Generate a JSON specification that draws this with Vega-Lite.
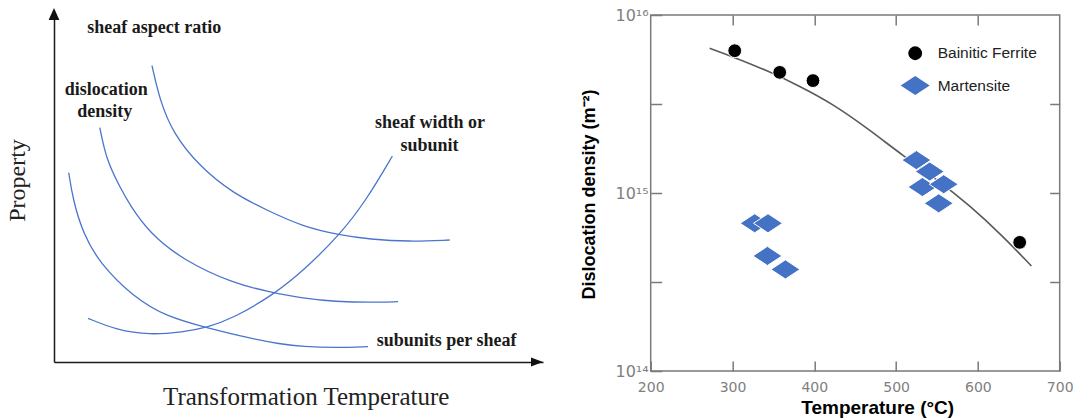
{
  "$schema": "https://vega.github.io/schema/vega-lite/v6.json",
  "padding": {"left": 5, "top": 6, "right": 5, "bottom": 5},
  "background": "white",
  "config": {"view": {"stroke": null}},
  "bounds": "flush",
  "spacing": 107.7,
  "resolve": {
    "scale": {"color": "independent", "shape": "independent", "size": "independent"},
    "legend": {"color": "independent", "shape": "independent", "size": "independent"}
  },
  "hconcat": [
    {
      "width": 489,
      "height": 347,
      "view": {"stroke": null},
      "encoding": {
        "x": {
          "field": "t", "type": "quantitative",
          "scale": {"domain": [0, 100], "nice": false, "zero": false},
          "axis": {
            "orient": "bottom", "domain": true, "domainColor": "#1a1a1a", "domainWidth": 1.5,
            "ticks": false, "labels": false, "grid": false,
            "title": "Transformation Temperature",
            "titleFont": "Liberation Serif", "titleFontSize": 25, "titleFontWeight": "normal",
            "titleColor": "#222222", "titleX": 251.7, "titleY": 42,
            "titleAlign": "center", "titleBaseline": "alphabetic"
          }
        },
        "y": {
          "field": "p", "type": "quantitative",
          "scale": {"domain": [0, 100], "nice": false, "zero": false},
          "axis": {
            "orient": "left", "domain": true, "domainColor": "#1a1a1a", "domainWidth": 1.5,
            "ticks": false, "labels": false, "grid": false,
            "title": "Property",
            "titleFont": "Liberation Serif", "titleFontSize": 24, "titleFontWeight": "normal",
            "titleColor": "#222222", "titleX": -30, "titleY": 165, "titleAngle": -90,
            "titleAlign": "center", "titleBaseline": "alphabetic"
          }
        }
      },
      "layer": [
        {
          "data": {"values": [
            {"curve": "A", "t": 20.04, "p": 85.39}, {"curve": "A", "t": 21.62, "p": 75.5},
            {"curve": "A", "t": 24.34, "p": 65.91}, {"curve": "A", "t": 29.8, "p": 56.28},
            {"curve": "A", "t": 36.61, "p": 48.62}, {"curve": "A", "t": 43.44, "p": 43.8},
            {"curve": "A", "t": 50.92, "p": 38.99}, {"curve": "A", "t": 58.43, "p": 36.6},
            {"curve": "A", "t": 64.56, "p": 35.36}, {"curve": "A", "t": 72.74, "p": 34.67},
            {"curve": "A", "t": 80.92, "p": 35.16},
            {"curve": "B", "t": 9.37, "p": 67.52}, {"curve": "B", "t": 10.72, "p": 58.21},
            {"curve": "B", "t": 13.44, "p": 50.52}, {"curve": "B", "t": 15.48, "p": 45.24},
            {"curve": "B", "t": 19.57, "p": 37.09}, {"curve": "B", "t": 26.38, "p": 29.39},
            {"curve": "B", "t": 36.61, "p": 22.68}, {"curve": "B", "t": 44.11, "p": 20.17},
            {"curve": "B", "t": 50.92, "p": 18.36}, {"curve": "B", "t": 57.75, "p": 17.38},
            {"curve": "B", "t": 64.56, "p": 17.15}, {"curve": "B", "t": 70.35, "p": 17.38},
            {"curve": "C", "t": 3.01, "p": 54.55}, {"curve": "C", "t": 3.89, "p": 46.69},
            {"curve": "C", "t": 5.93, "p": 37.09}, {"curve": "C", "t": 9.35, "p": 28.44},
            {"curve": "C", "t": 16.16, "p": 18.82}, {"curve": "C", "t": 22.99, "p": 13.05},
            {"curve": "C", "t": 31.17, "p": 9.88}, {"curve": "C", "t": 40.02, "p": 6.83},
            {"curve": "C", "t": 46.16, "p": 5.19}, {"curve": "C", "t": 50.92, "p": 4.41},
            {"curve": "C", "t": 57.75, "p": 4.12}, {"curve": "C", "t": 64.21, "p": 4.41},
            {"curve": "D", "t": 6.95, "p": 12.59}, {"curve": "D", "t": 12.76, "p": 9.22},
            {"curve": "D", "t": 19.57, "p": 7.78}, {"curve": "D", "t": 26.38, "p": 8.65},
            {"curve": "D", "t": 31.17, "p": 9.88}, {"curve": "D", "t": 36.61, "p": 12.59},
            {"curve": "D", "t": 44.79, "p": 19.31}, {"curve": "D", "t": 50.92, "p": 26.22},
            {"curve": "D", "t": 58.43, "p": 36.6}, {"curve": "D", "t": 63.89, "p": 46.69},
            {"curve": "D", "t": 69.2, "p": 59.37}
          ]},
          "mark": {"type": "line", "color": "#4a75cc", "strokeWidth": 1.3, "interpolate": "basis"},
          "encoding": {"detail": {"field": "curve", "type": "nominal"}}
        },
        {
          "data": {"values": [
            {"label": "sheaf aspect ratio", "t": 20.5, "p": 96.2},
            {"label": "dislocation", "t": 10.7, "p": 78.4},
            {"label": "density", "t": 10.4, "p": 72.1},
            {"label": "sheaf width or", "t": 76.9, "p": 68.8},
            {"label": "subunit", "t": 76.8, "p": 62.3},
            {"label": "subunits per sheaf", "t": 80.3, "p": 6.1}
          ]},
          "mark": {"type": "text", "font": "Liberation Serif", "fontSize": 18, "fontWeight": "bold", "color": "#1a1a1a", "align": "center", "baseline": "middle"},
          "encoding": {"text": {"field": "label", "type": "nominal"}}
        },
        {
          "data": {"values": [{"t": 100, "p": 0}]},
          "mark": {"type": "point", "shape": "M0,0L-2,-0.75L-2,0.75Z", "size": 144, "filled": true, "color": "#111111", "opacity": 1, "strokeWidth": 0}
        },
        {
          "data": {"values": [{"t": 0, "p": 102}]},
          "mark": {"type": "point", "shape": "M0,0L-0.9,2L0.9,2Z", "size": 144, "filled": true, "color": "#111111", "opacity": 1, "strokeWidth": 0}
        }
      ]
    },
    {
      "width": 409,
      "height": 356,
      "view": {"stroke": "#7a7a7a", "strokeWidth": 1.5},
      "layer": [
        {
          "data": {"values": [
            {"temp": 272.1, "density": 6.5e15}, {"temp": 300.6, "density": 5.82e15},
            {"temp": 341.4, "density": 4.9e15}, {"temp": 382.2, "density": 3.98e15},
            {"temp": 422.9, "density": 3.16e15}, {"temp": 467.7, "density": 2.26e15},
            {"temp": 508.4, "density": 1.62e15}, {"temp": 549.3, "density": 1.197e15},
            {"temp": 590, "density": 8.51e14}, {"temp": 630.7, "density": 5.71e14},
            {"temp": 665.4, "density": 3.89e14}
          ]},
          "mark": {"type": "line", "color": "#5a5a5a", "strokeWidth": 1.6, "interpolate": "basis"},
          "encoding": {
            "x": {
              "field": "temp", "type": "quantitative",
              "scale": {"domain": [200, 700], "nice": false, "zero": false},
              "axis": {"orient": "top", "values": [300, 400, 500, 600], "labels": false, "ticks": true,
                "tickSize": -10, "tickColor": "#7a7a7a", "tickWidth": 1.5, "domain": false, "grid": false, "title": null}
            },
            "y": {
              "field": "density", "type": "quantitative",
              "scale": {"type": "log", "domain": [1e14, 1e16], "nice": false},
              "axis": {"orient": "right", "values": [3.1623e14, 1e15, 3.1623e15], "labels": false, "ticks": true,
                "tickSize": -10, "tickColor": "#7a7a7a", "tickWidth": 1.5, "domain": false, "grid": false, "title": null}
            }
          }
        },
        {
          "data": {"values": [
            {"phase": "Bainitic Ferrite", "temp": 302.7, "density": 6.3e15},
            {"phase": "Bainitic Ferrite", "temp": 357.7, "density": 4.76e15},
            {"phase": "Bainitic Ferrite", "temp": 398.4, "density": 4.28e15},
            {"phase": "Bainitic Ferrite", "temp": 651.1, "density": 5.28e14},
            {"phase": "Martensite", "temp": 327.1, "density": 6.76e14},
            {"phase": "Martensite", "temp": 343.4, "density": 6.76e14},
            {"phase": "Martensite", "temp": 342.7, "density": 4.43e14},
            {"phase": "Martensite", "temp": 364.7, "density": 3.72e14},
            {"phase": "Martensite", "temp": 524.8, "density": 1.53e15},
            {"phase": "Martensite", "temp": 532.2, "density": 1.08e15},
            {"phase": "Martensite", "temp": 541.1, "density": 1.32e15},
            {"phase": "Martensite", "temp": 558.2, "density": 1.12e15},
            {"phase": "Martensite", "temp": 552.1, "density": 8.75e14}
          ]},
          "mark": {"type": "point", "filled": true, "opacity": 1, "stroke": "white", "strokeWidth": 1},
          "encoding": {
            "x": {
              "field": "temp", "type": "quantitative",
              "scale": {"domain": [200, 700], "nice": false, "zero": false},
              "axis": {"orient": "bottom", "values": [200, 300, 400, 500, 600, 700], "format": "d",
                "tickSize": -10, "tickColor": "#7a7a7a", "tickWidth": 1.5, "labelPadding": 19,
                "labelFont": "DejaVu Sans", "labelFontSize": 14, "labelColor": "#808080",
                "labelFlush": false, "labelOverlap": false, "domain": false, "grid": false,
                "title": "Temperature (°C)", "titleFont": "Liberation Sans", "titleFontSize": 19,
                "titleFontWeight": "bold", "titleColor": "#000000", "titleX": 226.5, "titleY": 42.6,
                "titleAlign": "center", "titleBaseline": "alphabetic"}
            },
            "y": {
              "field": "density", "type": "quantitative",
              "scale": {"type": "log", "domain": [1e14, 1e16], "nice": false},
              "axis": {"orient": "left", "values": [1e14, 3.1623e14, 1e15, 3.1623e15, 1e16],
                "labelExpr": "datum.value == 1e16 ? '10¹⁶' : datum.value == 1e15 ? '10¹⁵' : datum.value == 1e14 ? '10¹⁴' : ''",
                "tickSize": -11, "tickColor": "#7a7a7a", "tickWidth": 1.5, "labelPadding": 13.5,
                "labelFont": "DejaVu Sans", "labelFontSize": 16, "labelColor": "#808080",
                "labelFlush": false, "labelOverlap": false, "labelOffset": 0.5, "domain": false, "grid": false,
                "title": "Dislocation density (m⁻²)", "titleFont": "Liberation Sans", "titleFontSize": 18,
                "titleFontWeight": "bold", "titleColor": "#000000", "titleX": -56.4, "titleY": 179,
                "titleAngle": -90, "titleAlign": "center", "titleBaseline": "alphabetic"}
            },
            "color": {
              "field": "phase", "type": "nominal",
              "scale": {"domain": ["Bainitic Ferrite", "Martensite"], "range": ["#000000", "#4472c4"]},
              "legend": {"orient": "none", "legendX": 250, "legendY": 30.5, "title": null, "padding": 0,
                "labelFont": "Liberation Sans", "labelFontSize": 15.5, "labelColor": "#222222",
                "labelOffset": 8, "rowPadding": 8.5, "symbolStrokeWidth": 0}
            },
            "shape": {
              "field": "phase", "type": "nominal",
              "scale": {"domain": ["Bainitic Ferrite", "Martensite"], "range": ["circle", "M-1,0L0,-0.66L1,0L0,0.66Z"]},
              "legend": {"orient": "none", "legendX": 250, "legendY": 30.5, "title": null, "padding": 0,
                "labelFont": "Liberation Sans", "labelFontSize": 15.5, "labelColor": "#222222",
                "labelOffset": 8, "rowPadding": 8.5, "symbolStrokeWidth": 0}
            },
            "size": {
              "field": "phase", "type": "nominal",
              "scale": {"domain": ["Bainitic Ferrite", "Martensite"], "range": [190, 841]},
              "legend": {"orient": "none", "legendX": 250, "legendY": 30.5, "title": null, "padding": 0,
                "labelFont": "Liberation Sans", "labelFontSize": 15.5, "labelColor": "#222222",
                "labelOffset": 8, "rowPadding": 8.5, "symbolStrokeWidth": 0}
            }
          }
        }
      ],
      "resolve": {"axis": {"x": "independent", "y": "independent"}}
    }
  ]
}
